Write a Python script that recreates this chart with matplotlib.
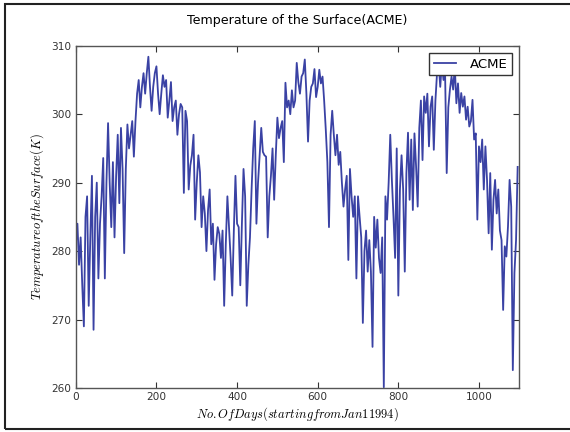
import numpy as np
import matplotlib
matplotlib.use("Agg")
import matplotlib.pyplot as plt
from matplotlib.patches import Rectangle

# Surface temperature (K), one reading every 4 days from Jan 1 1994
step_days = 4
temps = [
    281, 284, 278, 282, 275, 269, 285, 288, 272, 282,
    291, 268.5, 285, 290, 276, 284, 288, 293.6, 276, 290,
    298.7, 290, 283.5, 293, 282, 291, 297, 287, 298, 292,
    279.7, 292, 298.5, 295, 297, 299, 293.8, 299, 303, 305,
    301, 304, 306, 303, 306, 308.4, 304, 300.5, 304, 306,
    307, 303, 300, 303, 305.7, 304, 305, 299.5, 302, 304.7,
    299, 301, 302, 297, 300, 301.5, 301, 288.5, 300.5, 299,
    289, 292.5, 294, 297, 284.6, 290, 294, 291.5, 283.5, 288,
    285.5, 280, 286, 289, 281, 284, 275.8, 281, 283.5, 282.5,
    279, 283, 272, 281, 288, 283.5, 279, 273.5, 283, 291,
    284, 283.5, 275, 284, 292, 288, 272, 278, 282, 289,
    295, 299, 284, 290, 294, 298, 294.5, 294, 293.8, 282,
    288, 291, 295, 287.5, 294, 299.5, 296.5, 298, 299, 293,
    304.6, 301, 302, 300, 303.5, 301, 302, 307.5, 304.7, 303,
    305.5, 306, 308, 303, 296, 302, 304, 304.5, 306.6, 302.5,
    304, 306.5, 304.5, 305.5, 302, 297.8, 293, 283.5, 297, 300.5,
    297, 294, 297, 292.6, 294.5, 290, 286.5, 289, 291, 278.7,
    292, 288, 285, 288, 276, 288, 285, 282, 269.5, 280,
    283, 277, 281.6, 277, 266, 285, 280.5, 284.6, 279, 276.8,
    282, 260.1, 288, 284.6, 290, 297, 290.4, 285, 279, 295,
    273.5, 289, 294, 289, 277, 291.4, 297.3, 287.5, 296.3, 286,
    297.2, 292.4, 286.5, 298, 302, 293.3, 302.6, 300.2, 303, 295.3,
    301.1, 302.6, 294.8, 302, 306, 307.5, 304, 307.5, 305, 306,
    291.4, 301, 303.6, 305.5, 303.6, 307, 301.6, 304.5, 300.2, 303.1,
    301.1, 302.6, 299.2, 301.1, 298.2, 299, 302.1, 296.3, 297.2, 284.6,
    295.3, 293, 296.3, 289, 295.3, 290.4, 282.6, 291.4, 280.2, 287.5,
    290.4, 285.5, 289, 283, 281.6, 271.4, 280.7, 279.2, 283.6, 290.4,
    286.5, 262.6, 276.8, 281.6, 292.3,
]
days = np.arange(len(temps)) * step_days

plt.rcParams["mathtext.fontset"] = "cm"
plt.rcParams["xtick.direction"] = "in"
plt.rcParams["ytick.direction"] = "in"
plt.rcParams["xtick.top"] = True
plt.rcParams["ytick.right"] = True

fig = plt.figure(figsize=(5.7, 4.32), dpi=100)
ax = fig.add_axes([0.133, 0.102, 0.778, 0.792])

ax.plot(days, temps, color="#3a42a4", linewidth=1.3, label="ACME")
ax.set_xlim(0, 1100)
ax.set_ylim(260, 310)
ax.set_xticks(np.arange(0, 1001, 200))
ax.set_yticks(np.arange(260, 311, 10))
ax.tick_params(labelsize=7.6, length=4, width=0.8, colors="#333333", pad=3)
for s in ax.spines.values():
    s.set_color("#555555")
    s.set_linewidth(1.0)

ax.set_title("Temperature of the Surface(ACME)", fontsize=9.1, pad=16)
ax.set_xlabel(r"$No.Of Days(starting from Jan 1 1994)$", fontsize=9, labelpad=2)
ax.set_ylabel(r"$Temperature of the Surface(K)$", fontsize=9, labelpad=4)

leg = ax.legend(loc="upper right", fontsize=9.5, fancybox=False, framealpha=1,
                handlelength=1.7, handletextpad=1.0, borderpad=0.35, borderaxespad=0.55)
leg.get_frame().set_edgecolor("#333333")
leg.get_frame().set_linewidth(1.0)

# frame around the whole figure
fig.patches.append(Rectangle((5 / 570, 3 / 432), 1.0, 425 / 432, transform=fig.transFigure,
                             fill=False, edgecolor="#222222", linewidth=1.5))

fig.savefig("out.png", dpi=100)
